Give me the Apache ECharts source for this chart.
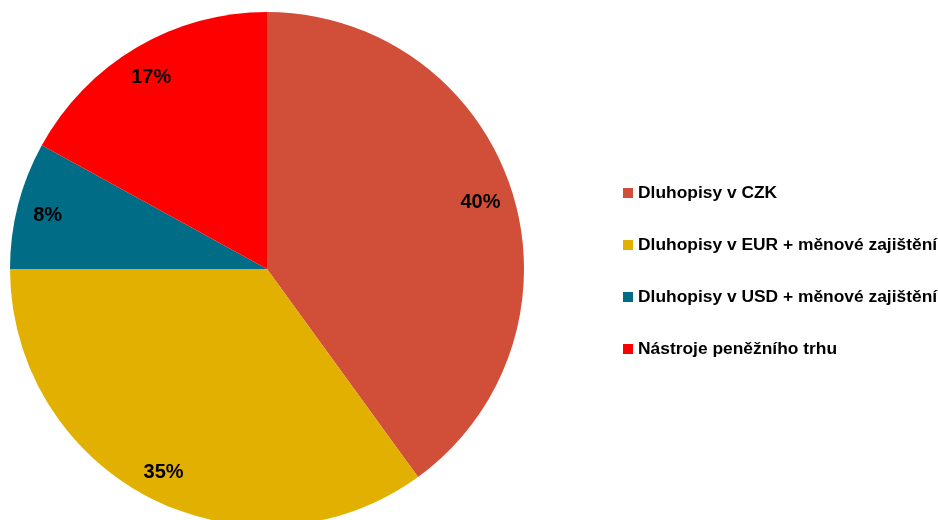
<!DOCTYPE html>
<html>
<head>
<meta charset="utf-8">
<script src="https://cdn.jsdelivr.net/npm/echarts@6/dist/echarts.min.js"></script>
<style>
html,body{margin:0;padding:0;background:#fff;}
#c{width:938px;height:520px;}
</style>
</head>
<body>
<div id="c"></div>
<script>
const categories = ['Dluhopisy v CZK', 'Dluhopisy v EUR + měnové zajištění', 'Dluhopisy v USD + měnové zajištění', 'Nástroje peněžního trhu'];
const values = [40, 35, 8, 17];
const colors = ['#D14F39', '#E2B000', '#006C86', '#FF0000'];

const chart = echarts.init(document.getElementById('c'), null, {renderer: 'canvas'});
const mainData = categories.map((n, i) => ({name: n, value: values[i], itemStyle: {color: colors[i]}}));
const labelData = categories.map((n, i) => ({name: n, value: values[i]}));

chart.setOption({
  animation: false,
  backgroundColor: '#fff',
  legend: {
    orient: 'vertical',
    left: 618,
    top: 178,
    icon: 'rect',
    itemWidth: 10,
    itemHeight: 10,
    itemGap: 32,
    data: categories,
    selectedMode: false,
    textStyle: {
      fontFamily: 'Liberation Sans, Arial, sans-serif',
      fontWeight: 'bold',
      fontSize: 17.4,
      lineHeight: 20,
      color: '#000'
    }
  },
  series: [
    {
      type: 'pie',
      center: [267, 269],
      radius: [0, 257],
      startAngle: 90,
      clockwise: true,
      silent: true,
      label: {show: false},
      labelLine: {show: false},
      data: mainData
    },
    {
      type: 'pie',
      center: [267, 269],
      radius: [188, 257],
      startAngle: 90,
      clockwise: true,
      silent: true,
      legendHoverLink: false,
      itemStyle: {color: 'rgba(0,0,0,0)'},
      label: {
        show: true,
        position: 'inside',
        formatter: '{c}%',
        offset: [-1, 3],
        fontFamily: 'Liberation Sans, Arial, sans-serif',
        fontWeight: 'bold',
        fontSize: 20,
        color: '#000'
      },
      labelLine: {show: false},
      data: labelData
    }
  ]
});
</script>
</body>
</html>
